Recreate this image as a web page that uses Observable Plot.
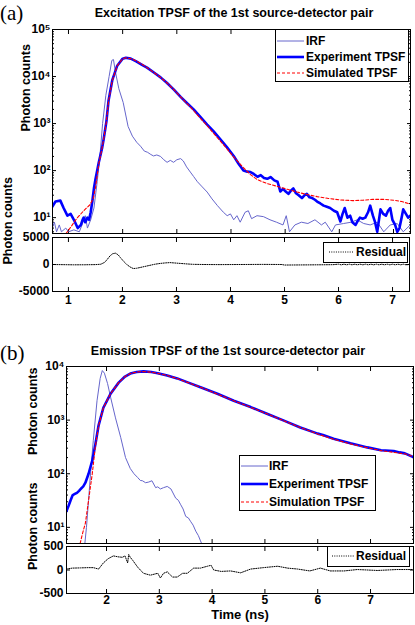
<!DOCTYPE html>
<html><head><meta charset="utf-8">
<script src="https://cdn.jsdelivr.net/npm/d3@7"></script>
<script src="https://cdn.jsdelivr.net/npm/@observablehq/plot@0.6"></script>
<style>
body{margin:0;background:#fff;}
#root{position:relative;width:415px;height:625px;overflow:hidden;font-family:"Liberation Sans",Arial,sans-serif;background:#fff;}
#root svg{position:absolute;left:0;}
.abs{position:absolute;white-space:nowrap;}
.title{font-weight:bold;font-size:12.5px;transform:translateX(-50%);line-height:16px;}
.tag{font-family:"Liberation Serif","DejaVu Serif",serif;font-size:21px;line-height:22px;}
.legend{position:absolute;box-sizing:border-box;border:1px solid #000;background:#fff;font-weight:bold;font-size:12px;}
.legend span{position:absolute;line-height:14px;}
.legend svg.ls{position:absolute;overflow:visible;}
</style></head>
<body><div id="root"></div>
<script>
// ---------- Panel (a): excitation TPSF ----------
const aTitle = "Excitation TPSF of the 1st source-detector pair";
const aXTicks = [1, 2, 3, 4, 5, 6, 7];
const aXLabels = ["1", "2", "3", "4", "5", "6", "7"];
const aYTicks = [10, 100, 1000, 10000, 100000];
const aYLabels = ["10¹", "10²", "10³", "10⁴", "10⁵"];
const aResTicks = [-5000, 0, 5000];
const aResLabels = ["-5000", "0", "5000"];
const aIrf = [[0.70,6],[0.74,8],[0.78,5],[0.83,7],[0.87,5],[0.95,6],[1.00,5],[1.10,5.5],[1.20,5],[1.25,7],[1.31,11],[1.35,6],[1.41,9],[1.47,16],[1.53,58],[1.58,200],[1.63,1000],[1.69,4000],[1.75,10000],[1.80,22000],[1.83,23000],[1.87,12000],[1.93,5500],[2.01,2800],[2.10,870],[2.18,540],[2.26,400],[2.33,330],[2.40,260],[2.46,245],[2.52,220],[2.57,205],[2.63,215],[2.70,200],[2.76,170],[2.82,150],[2.88,165],[2.94,150],[3.00,170],[3.07,180],[3.12,160],[3.18,120],[3.25,93],[3.31,75],[3.38,58],[3.47,45],[3.56,35],[3.65,25],[3.75,18],[3.86,13],[3.93,11],[3.99,12],[4.05,9],[4.11,11],[4.17,8],[4.26,13],[4.32,14],[4.38,9.5],[4.48,11],[4.60,10.5],[4.72,9],[4.84,8],[4.96,7],[5.02,11],[5.08,5],[5.18,7],[5.30,8],[5.42,7.5],[5.55,9],[5.67,7],[5.74,8],[5.86,5],[5.93,7],[6.08,7.5],[6.22,8],[6.33,9],[6.45,7.5],[6.57,7],[6.70,8],[6.82,5],[6.94,7],[7.07,7.5],[7.18,5],[7.31,7]];
const aExp = [[0.70,17],[0.76,22],[0.85,23],[0.91,16],[0.98,11],[1.04,12],[1.10,9],[1.17,6],[1.23,7],[1.26,9],[1.28,10],[1.31,8],[1.35,10],[1.38,9],[1.41,13],[1.44,22],[1.47,42],[1.50,67],[1.56,150],[1.62,300],[1.65,470],[1.70,1100],[1.74,3100],[1.81,8500],[1.90,17000],[2.00,24000],[2.06,25000],[2.15,24000],[2.25,21000],[2.35,18000],[2.45,15500],[2.57,12300],[2.70,9600],[2.82,7300],[2.95,5200],[3.07,3700],[3.19,2700],[3.31,2000],[3.43,1400],[3.56,950],[3.68,680],[3.80,470],[3.92,320],[4.05,205],[4.14,140],[4.23,100],[4.30,95],[4.36,93],[4.42,85],[4.49,74],[4.55,80],[4.61,70],[4.67,67],[4.73,73],[4.80,62],[4.86,58],[4.91,36],[4.96,41],[5.01,36],[5.06,32],[5.11,38],[5.15,42],[5.20,33],[5.25,30],[5.31,26],[5.36,30],[5.40,32],[5.45,27],[5.50,26],[5.55,24],[5.59,22],[5.65,20],[5.71,18],[5.77,17],[5.83,16],[5.90,14],[5.96,13],[6.02,8.3],[6.06,12],[6.10,16],[6.15,10],[6.20,11],[6.24,8],[6.30,7],[6.34,8.5],[6.38,10],[6.43,9.5],[6.48,10],[6.53,13],[6.57,18],[6.62,11],[6.66,8],[6.70,5],[6.76,15],[6.81,12],[6.86,11],[6.90,14],[6.94,16],[6.98,9],[7.03,7],[7.07,5],[7.11,6],[7.15,10],[7.18,15],[7.23,12],[7.27,10],[7.31,11]];
const aSim = [[0.95,4.5],[1.05,6.5],[1.15,9.5],[1.28,14],[1.40,19],[1.46,26],[1.50,45],[1.56,140],[1.62,300],[1.65,470],[1.70,1100],[1.74,3000],[1.81,8300],[1.90,17000],[2.00,24000],[2.06,25000],[2.15,24000],[2.25,21500],[2.35,18500],[2.45,15500],[2.57,12300],[2.70,9600],[2.82,7300],[2.95,5200],[3.07,3700],[3.19,2650],[3.31,1900],[3.43,1320],[3.56,900],[3.68,620],[3.80,430],[3.92,295],[4.05,195],[4.23,115],[4.36,82],[4.49,64],[4.67,53],[4.86,46],[5.04,40],[5.22,35],[5.40,31],[5.59,28],[5.80,25.5],[6.02,23.8],[6.25,23],[6.44,23.5],[6.62,24.5],[6.81,24.5],[7.00,23.5],[7.15,22],[7.31,19.5]];
const aRes = [[0.70,0],[0.90,-30],[1.10,-60],[1.30,-50],[1.50,-20],[1.60,50],[1.67,400],[1.72,960],[1.77,1600],[1.82,2000],[1.87,2100],[1.92,1800],[1.96,1300],[2.02,600],[2.08,0],[2.14,-450],[2.20,-750],[2.26,-700],[2.33,-550],[2.42,-350],[2.51,-150],[2.60,50],[2.70,200],[2.80,300],[2.88,350],[2.97,280],[3.07,200],[3.20,100],[3.31,30],[3.50,0],[3.80,-20],[4.20,0],[4.60,20],[4.95,0],[5.00,-100],[5.30,-80],[5.60,-60],[5.90,-30],[6.00,60],[6.05,-60],[6.10,60],[6.15,-60],[6.20,60],[6.25,-60],[6.30,60],[6.35,-60],[6.40,60],[6.45,-60],[6.50,60],[6.55,-60],[6.60,60],[6.65,-60],[6.70,60],[6.75,-60],[6.80,60],[6.85,-60],[6.90,60],[6.95,-60],[7.00,60],[7.05,-60],[7.10,60],[7.15,-60],[7.20,60],[7.25,-60],[7.31,0]];

// ---------- Panel (b): emission TPSF ----------
const bTitle = "Emission TPSF of the 1st source-detector pair";
const bXTicks = [2, 3, 4, 5, 6, 7];
const bXLabels = ["2", "3", "4", "5", "6", "7"];
const bYTicks = [10, 100, 1000, 10000];
const bYLabels = ["10¹", "10²", "10³", "10⁴"];
const bResTicks = [-500, 0, 500];
const bResLabels = ["-500", "0", "500"];
const bIrf = [[1.58,4],[1.62,10],[1.66,32],[1.70,110],[1.75,420],[1.82,2300],[1.88,6000],[1.92,8400],[1.96,7500],[2.02,4800],[2.08,2600],[2.17,1100],[2.27,470],[2.36,200],[2.45,125],[2.52,100],[2.59,85],[2.64,75],[2.68,74],[2.74,68],[2.80,70],[2.86,74],[2.93,55],[2.97,57],[3.02,52],[3.08,55],[3.15,58],[3.22,52],[3.31,35],[3.36,32],[3.40,27],[3.45,22],[3.50,16],[3.55,15],[3.59,13],[3.64,11],[3.69,8.5],[3.74,7],[3.78,5.6],[3.82,4.5]];
const bExp = [[1.24,20],[1.28,25],[1.32,32],[1.36,40],[1.40,42],[1.44,44],[1.48,48],[1.51,52],[1.56,58],[1.60,68],[1.66,100],[1.73,175],[1.79,360],[1.85,800],[1.94,1700],[2.08,3150],[2.23,5000],[2.35,6500],[2.45,7400],[2.57,7900],[2.70,8100],[2.85,7900],[2.97,7500],[3.15,6800],[3.34,6000],[3.55,5000],[3.78,4100],[4.10,3100],[4.41,2300],[4.73,1750],[5.05,1300],[5.36,980],[5.67,730],[6.00,560],[6.10,530],[6.30,450],[6.62,370],[6.94,310],[7.20,275],[7.44,265],[7.55,250],[7.65,240],[7.81,205]];
const bSim = [[1.50,5],[1.55,8],[1.60,12],[1.66,32],[1.73,100],[1.79,330],[1.85,780],[1.94,1700],[2.08,3150],[2.23,5000],[2.35,6500],[2.45,7400],[2.57,7900],[2.70,8050],[2.85,7850],[2.97,7450],[3.15,6800],[3.34,5950],[3.55,5000],[3.78,4100],[4.10,3050],[4.41,2300],[4.73,1730],[5.05,1300],[5.36,970],[5.67,730],[6.00,550],[6.30,440],[6.62,360],[6.94,305],[7.20,270],[7.44,250],[7.65,235],[7.81,210]];
const bRes = [[1.24,20],[1.35,40],[1.51,45],[1.65,50],[1.75,50],[1.85,20],[1.94,150],[2.03,240],[2.13,300],[2.22,280],[2.30,270],[2.35,300],[2.40,150],[2.42,330],[2.45,270],[2.50,200],[2.59,60],[2.70,-70],[2.83,-110],[2.90,-90],[2.97,-70],[3.02,-170],[3.08,-70],[3.15,-40],[3.25,-150],[3.34,-150],[3.44,-70],[3.53,-70],[3.65,40],[3.78,40],[3.91,80],[3.98,100],[4.03,0],[4.17,-30],[4.35,-20],[4.54,-60],[4.73,20],[4.97,50],[5.24,80],[5.43,40],[5.62,20],[5.85,-20],[6.05,40],[6.24,-20],[6.50,-20],[6.75,10],[7.13,-10],[7.50,10],[7.81,10]];

const C = {irf: "#6666cc", exp: "#0000ff", sim: "#ff0000", res: "#000000"};
const FONT = "'Liberation Sans', Arial, sans-serif";

function minorTicks(lo, hi) {
  const out = [];
  for (let e = Math.floor(Math.log10(lo)); e <= Math.ceil(Math.log10(hi)); e++)
    for (let m = 2; m <= 9; m++) { const v = m * Math.pow(10, e); if (v > lo && v < hi) out.push(v); }
  return out;
}
function boxTicks(xt, yt, ym) {
  const blank = () => "";
  const m = [
    Plot.axisX({ticks: xt, anchor: "bottom", tickSize: -4, tickFormat: blank, label: null}),
    Plot.axisX({ticks: xt, anchor: "top", tickSize: -4, tickFormat: blank, label: null}),
    Plot.axisY({ticks: yt, anchor: "left", tickSize: -4, tickFormat: blank, label: null}),
    Plot.axisY({ticks: yt, anchor: "right", tickSize: -4, tickFormat: blank, label: null})
  ];
  if (ym) m.push(
    Plot.axisY({ticks: ym, anchor: "left", tickSize: -2, tickFormat: blank, label: null}),
    Plot.axisY({ticks: ym, anchor: "right", tickSize: -2, tickFormat: blank, label: null}));
  return m;
}
const lab = (ticks, labels) => d => labels[ticks.indexOf(d)];
const xy = {x: d => d[0], y: d => d[1], clip: true};
const style = {fontFamily: FONT, fontSize: "12px", fontWeight: "bold", background: "transparent", overflow: "visible", position: "absolute", left: "0px"};
const root = document.getElementById("root");
function place(svg, top) { svg.style.top = top + "px"; root.appendChild(svg); }
function ylab(dx) {
  return Plot.text(["Photon counts"], {text: d => d, frameAnchor: "left", rotate: -90, dx, fontSize: 12.5, fontWeight: "bold"});
}

// (a) main
const aDom = [0.705, 7.314];
place(Plot.plot({
  width: 415, height: 236, marginTop: 29, marginBottom: 3, marginLeft: 52, marginRight: 5,
  style, x: {domain: aDom}, y: {type: "log", domain: [4.6, 100000]},
  marks: [
    ...boxTicks(aXTicks, aYTicks, minorTicks(4.6, 100000)),
    Plot.axisY({ticks: aYTicks, anchor: "left", tickSize: 0, tickPadding: 2, tickFormat: lab(aYTicks, aYLabels), label: null}),
    ylab(-27),
    Plot.line(aIrf, {...xy, stroke: C.irf, strokeWidth: 1}),
    Plot.line(aExp, {...xy, stroke: C.exp, strokeWidth: 2.6}),
    Plot.line(aSim, {...xy, stroke: C.sim, strokeWidth: 1.1, strokeDasharray: "3,2"}),
    Plot.frame({stroke: "#000"})
  ]
}), 0);

// (a) residual
place(Plot.plot({
  width: 415, height: 80, marginTop: 4, marginBottom: 22, marginLeft: 52, marginRight: 6,
  style, x: {domain: aDom}, y: {domain: [-5000, 5000]},
  marks: [
    ...boxTicks(aXTicks, aResTicks),
    Plot.axisX({ticks: aXTicks, anchor: "bottom", tickSize: 0, tickPadding: 4, tickFormat: lab(aXTicks, aXLabels), label: null}),
    Plot.axisY({ticks: aResTicks, anchor: "left", tickSize: 0, tickPadding: 3, tickFormat: lab(aResTicks, aResLabels), label: null}),
    ylab(-45),
    Plot.line(aRes, {...xy, stroke: C.res, strokeWidth: 1, strokeDasharray: "1,1.3"}),
    Plot.frame({stroke: "#000"})
  ]
}), 233);

// (b) main
const bDom = [1.242, 7.814];
place(Plot.plot({
  width: 415, height: 186, marginTop: 6, marginBottom: 3, marginLeft: 66, marginRight: 2,
  style, x: {domain: bDom}, y: {type: "log", domain: [5, 10000]},
  marks: [
    ...boxTicks(bXTicks, bYTicks, minorTicks(5, 10000)),
    Plot.axisY({ticks: bYTicks, anchor: "left", tickSize: 0, tickPadding: 2, tickFormat: lab(bYTicks, bYLabels), label: null}),
    ylab(-34),
    Plot.line(bIrf, {...xy, stroke: C.irf, strokeWidth: 1}),
    Plot.line(bExp, {...xy, stroke: C.exp, strokeWidth: 2.6}),
    Plot.line(bSim, {...xy, stroke: C.sim, strokeWidth: 1.1, strokeDasharray: "3,2"}),
    Plot.frame({stroke: "#000"})
  ]
}), 360);

// (b) residual
place(Plot.plot({
  width: 415, height: 82, marginTop: 3, marginBottom: 32, marginLeft: 66, marginRight: 2,
  style, x: {domain: bDom}, y: {domain: [-500, 500]},
  marks: [
    ...boxTicks(bXTicks, bResTicks),
    Plot.axisX({ticks: bXTicks, anchor: "bottom", tickSize: 0, tickPadding: 2, tickFormat: lab(bXTicks, bXLabels), label: null}),
    Plot.axisY({ticks: bResTicks, anchor: "left", tickSize: 0, tickPadding: 3, tickFormat: lab(bResTicks, bResLabels), label: null}),
    ylab(-34),
    Plot.text(["Time (ns)"], {text: d => d, frameAnchor: "bottom", dy: 25, fontSize: 13, fontWeight: "bold"}),
    Plot.line(bRes, {...xy, stroke: C.res, strokeWidth: 1, strokeDasharray: "1,1.3"}),
    Plot.frame({stroke: "#000"})
  ]
}), 543);

// ---------- titles and legends (HTML) ----------
function addText(cls, txt, left, top) {
  const d = document.createElement("div");
  d.className = "abs " + cls; d.textContent = txt;
  d.style.left = left + "px"; d.style.top = top + "px";
  root.appendChild(d);
}
addText("tag", "(a)", 0, 2);
addText("title", aTitle, 234, 5);
addText("tag", "(b)", 0, 342);
addText("title", bTitle, 228, 343);

function legend(box, items) {
  const d = document.createElement("div");
  d.className = "legend";
  Object.assign(d.style, {left: box.left + "px", top: box.top + "px", width: box.w + "px", height: box.h + "px", borderWidth: (box.bw || 1) + "px"});
  items.forEach(it => {
    const s = document.createElementNS("http://www.w3.org/2000/svg", "svg");
    s.setAttribute("class", "ls");
    s.setAttribute("width", box.lw); s.setAttribute("height", 6);
    s.style.left = box.lx + "px"; s.style.top = (it.cy - 3) + "px";
    const l = document.createElementNS("http://www.w3.org/2000/svg", "line");
    l.setAttribute("x1", 0); l.setAttribute("x2", box.lw); l.setAttribute("y1", 3); l.setAttribute("y2", 3);
    l.setAttribute("stroke", it.stroke); l.setAttribute("stroke-width", it.sw);
    if (it.dash) l.setAttribute("stroke-dasharray", it.dash);
    s.appendChild(l); d.appendChild(s);
    const t = document.createElement("span");
    t.textContent = it.label; t.style.left = box.tx + "px"; t.style.top = (it.cy - 7) + "px";
    d.appendChild(t);
  });
  root.appendChild(d);
}
legend({left: 275, top: 29, w: 134, h: 53, lx: 1, lw: 27, tx: 30}, [
  {label: "IRF", stroke: C.irf, sw: 1, cy: 11},
  {label: "Experiment TPSF", stroke: C.exp, sw: 2.6, cy: 27},
  {label: "Simulated TPSF", stroke: C.sim, sw: 1.1, dash: "3,2", cy: 43}
]);
legend({left: 323, top: 242, w: 85, h: 21, lx: 5, lw: 25, tx: 32}, [
  {label: "Residual", stroke: C.res, sw: 1, dash: "1,1.3", cy: 9}
]);
legend({left: 239, top: 455, w: 137, h: 56, lx: 1, lw: 27, tx: 29}, [
  {label: "IRF", stroke: C.irf, sw: 1, cy: 10},
  {label: "Experiment TPSF", stroke: C.exp, sw: 2.6, cy: 28},
  {label: "Simulation TPSF", stroke: C.sim, sw: 1.1, dash: "3,2", cy: 46}
]);
legend({left: 327, top: 546, w: 83, h: 21, lx: 4, lw: 22, tx: 28, bw: 1.5}, [
  {label: "Residual", stroke: C.res, sw: 1, dash: "1,1.3", cy: 9}
]);
</script></body></html>
